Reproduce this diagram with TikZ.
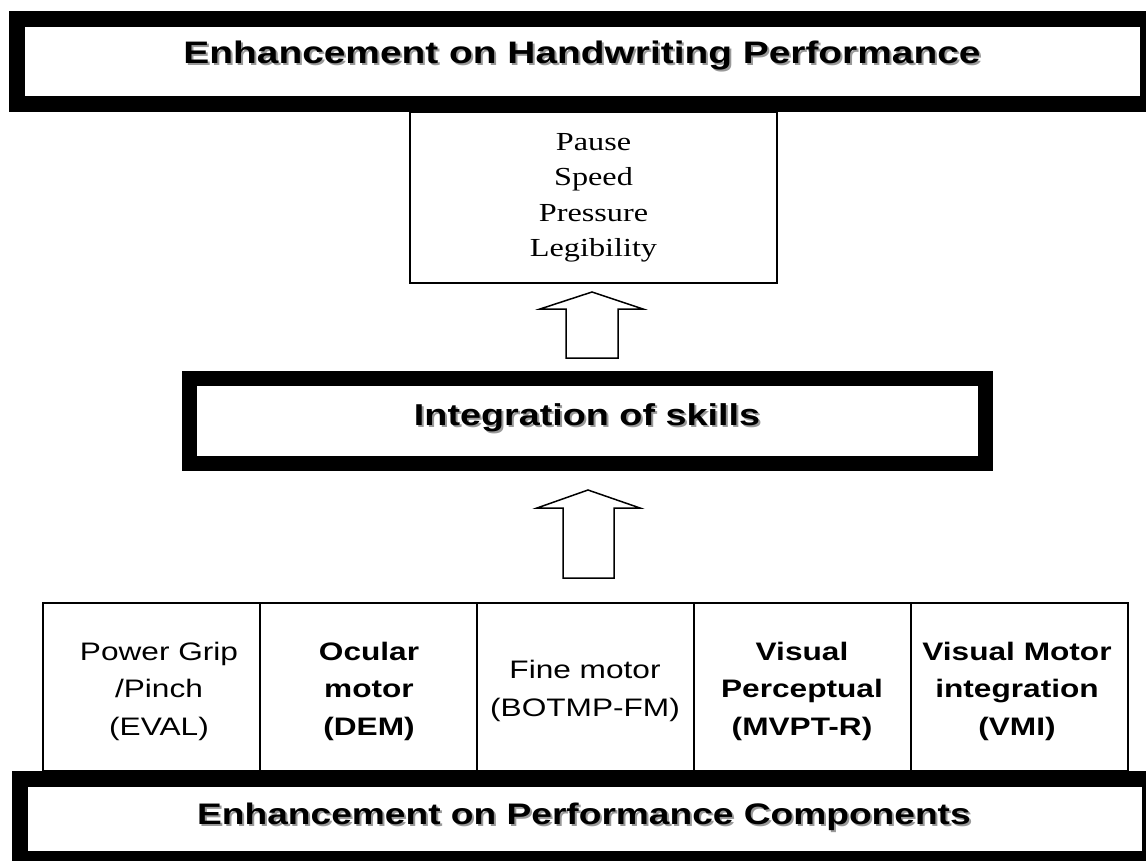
\documentclass[tikz,border=0pt]{standalone}
\usepackage{fontspec}
\setmainfont{Liberation Sans}[FakeStretch=1.25]
\newfontfamily\seriffont{Liberation Serif}[FakeStretch=1.24]
\newcommand\shtext[1]{\leavevmode\rlap{\kern2pt\raisebox{-2pt}{\color{black!40}#1}}#1}
\begin{document}
\begin{tikzpicture}[x=1pt,y=-1pt,
  banner/.style={draw=black,line width=16pt,fill=white,inner sep=0pt},
  bannertext/.style={font=\bfseries\fontsize{30}{36}\selectfont},
  listbox/.style={draw=black,line width=1.5pt,fill=white,inner sep=0pt,
    align=center,font=\seriffont\fontsize{26}{35.5}\selectfont},
  cell/.style={draw=black,line width=2pt,fill=white,inner sep=0pt,
    minimum width=217pt,minimum height=168pt},
  celltext/.style={inner sep=0pt,align=center,font=\fontsize{25.3}{37.5}\selectfont},
  boldtext/.style={celltext,font=\bfseries\fontsize{25.3}{37.5}\selectfont},
  blockarrow/.style={draw=black,line width=1.5pt,fill=white,line join=miter}]
\useasboundingbox (0,0) rectangle (1146,860);
\fill[white] (0,0) rectangle (1146,860);

% top banner
\draw[banner] (16.5,19) rectangle (1148,104);
\node[bannertext,font=\bfseries\fontsize{31.1}{36}\selectfont] (top) at (582,57) {\shtext{Enhancement on Handwriting Performance}};

% performance list box
\draw[listbox] (410,112) rectangle (777,283);
\node[listbox,draw=none,fill=none] (list) at (593.5,198) {Pause\\Speed\\Pressure\\Legibility};

% arrow 1
\draw[blockarrow] (592,292) -- (643,309) -- (618,309) -- (618,358) -- (566,358)
  -- (566,309) -- (540,309) -- cycle;

% integration banner
\draw[banner,line width=15pt] (189.5,378) rectangle (985.5,463.5);
\node[bannertext,font=\bfseries\fontsize{30.2}{36}\selectfont] (integ) at (587,419) {\shtext{Integration of skills}};

% arrow 2
\draw[blockarrow] (588,490) -- (640,508) -- (614,508) -- (614,578) -- (563,578)
  -- (563,508) -- (537,508) -- cycle;

% component cells
\node[cell] (c1) at (151,687) {};
\node[cell] (c2) at (368,687) {};
\node[cell] (c3) at (585,687) {};
\node[cell] (c4) at (802,687) {};
\node[cell] (c5) at (1019,687) {};
\node[celltext] (t1) at ([xshift=8pt,yshift=-4pt]c1.center) {Power Grip\\/Pinch\\(EVAL)};
\node[boldtext] (t2) at ([xshift=1pt,yshift=-4pt]c2.center) {Ocular\\motor\\(DEM)};
\node[celltext] (t3) at ([yshift=-4pt]c3.center) {Fine motor\\(BOTMP-FM)};
\node[boldtext] (t4) at ([yshift=-4pt]c4.center) {Visual\\Perceptual\\(MVPT-R)};
\node[boldtext] (t5) at ([xshift=-2pt,yshift=-4pt]c5.center) {Visual Motor\\integration\\(VMI)};

% bottom banner
\draw[banner] (19.5,779) rectangle (1150,859);
\node[bannertext,font=\bfseries\fontsize{29.7}{36}\selectfont] (bottom) at (584,818) {\shtext{Enhancement on Performance Components}};
\end{tikzpicture}
\end{document}
